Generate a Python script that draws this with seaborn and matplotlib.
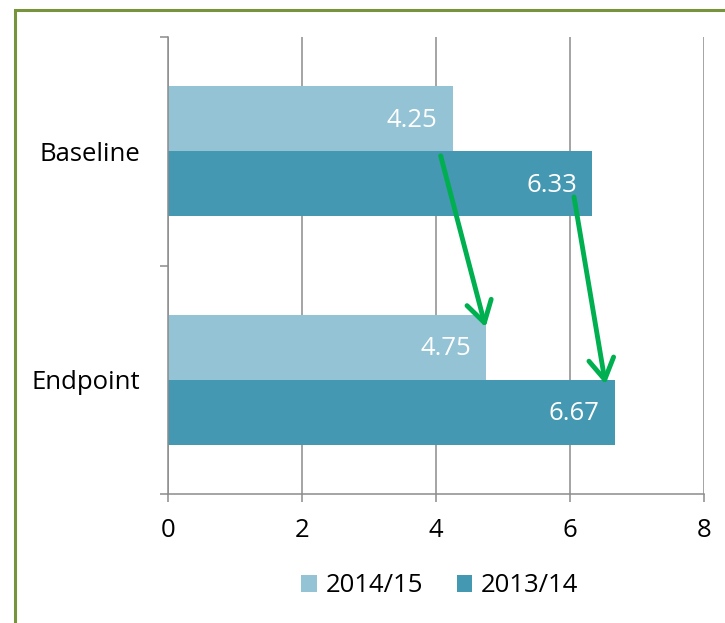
import matplotlib
matplotlib.use("Agg")
import matplotlib.pyplot as plt
import seaborn as sns
import pandas as pd
from matplotlib.patches import Rectangle

# ---- data ----
categories = ["Baseline", "Endpoint"]
periods = ["2014/15", "2013/14"]
values_2014_15 = [4.25, 4.75]
values_2013_14 = [6.33, 6.67]
x_ticks = [0, 2, 4, 6, 8]
colors = ["#93C3D5", "#4598B1"]

df = pd.DataFrame({
    "category": categories * 2,
    "period": [periods[0]] * 2 + [periods[1]] * 2,
    "value": values_2014_15 + values_2013_14,
})

sns.set_theme(style="white")
plt.rcParams["font.family"] = ["Open Sans", "DejaVu Sans"]
plt.rcParams["text.color"] = "black"
FS = 18.5

fig = plt.figure(figsize=(7.25, 6.23), dpi=100)
ax = fig.add_axes([168 / 725, 1 - 494 / 623, 536 / 725, 457 / 623])

sns.barplot(data=df, y="category", x="value", hue="period", hue_order=periods,
            order=categories, palette=colors, saturation=1, width=0.568,
            orient="h", ax=ax, edgecolor="none", linewidth=0)

ax.set_xlim(0, 8)
ax.set_ylim(1.5, -0.5)
ax.set_xticks(x_ticks)
ax.set_xticklabels([str(t) for t in x_ticks])
ax.set_xlabel("")
ax.set_ylabel("")

grey = "#8C8C8C"
ax.set_yticks([-0.5, 0.5, 1.5])
ax.set_yticklabels([])
ax.set_yticks([0, 1], minor=True)
ax.set_yticklabels(categories, minor=True)
ax.tick_params(axis="y", which="major", length=6, width=1.1, color=grey, direction="out", left=True)
ax.tick_params(axis="y", which="minor", length=0, pad=20, labelsize=FS, labelcolor="black")
ax.tick_params(axis="x", which="major", length=6, width=1.1, color=grey, direction="out",
               bottom=True, pad=11, labelsize=FS, labelcolor="black")

ax.grid(axis="x", color=grey, linewidth=1.1)
ax.grid(axis="y", visible=False)
ax.set_axisbelow(True)
for s in ["top", "right"]:
    ax.spines[s].set_visible(False)
for s in ["left", "bottom"]:
    ax.spines[s].set_color(grey)
    ax.spines[s].set_linewidth(1.1)

# value labels inside bars
for cont in ax.containers:
    for patch in cont.patches:
        w = patch.get_width()
        yc = patch.get_y() + patch.get_height() / 2
        ax.annotate(f"{w:.2f}", xy=(w, yc), xytext=(-11, -1), textcoords="offset points",
                    ha="right", va="center", color="white", fontsize=FS)

# green arrows
arrows = [((4.07, 0.02), (4.74, 0.77)), ((6.06, 0.20), (6.53, 1.02))]
for start, end in arrows:
    ax.annotate("", xy=end, xytext=start,
                arrowprops=dict(arrowstyle="->,head_length=0.75,head_width=0.45",
                                color="#00B050", lw=3.5, mutation_scale=20,
                                shrinkA=0, shrinkB=0))

# legend
leg = sns.move_legend(ax, "center", bbox_to_anchor=(440 / 725, 1 - 586 / 623),
                      bbox_transform=fig.transFigure, ncol=2, frameon=False, title=None,
                      fontsize=FS, handlelength=0.6, handleheight=0.6, handletextpad=0.35,
                      columnspacing=1.3)
for t in ax.get_legend().get_texts():
    t.set_color("black")

# outer green border
fig.patches.append(Rectangle((15 / 725, -0.2), 1.0, 1.2 - 10 / 623,
                             transform=fig.transFigure, fill=False,
                             edgecolor="#77933C", linewidth=2.2, zorder=0))

fig.savefig("out.png", dpi=100)
